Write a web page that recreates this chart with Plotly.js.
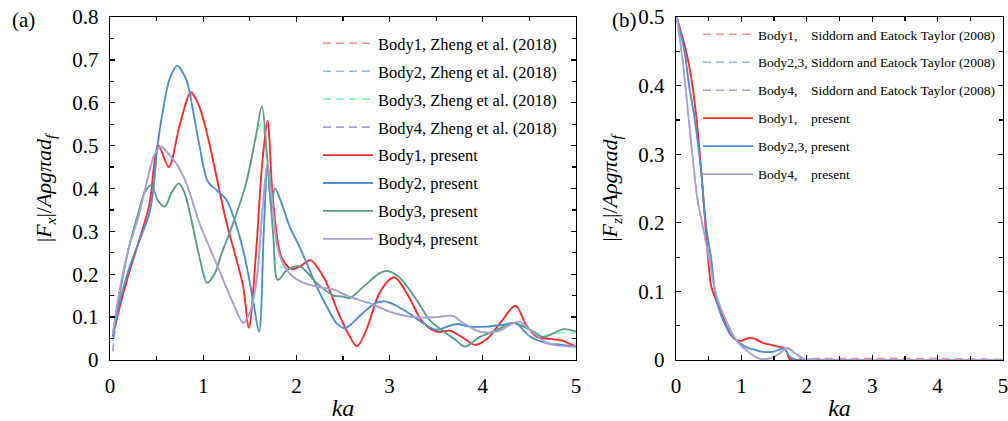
<!DOCTYPE html>
<html>
<head>
<meta charset="utf-8">
<script src="https://cdn.plot.ly/plotly-3.0.1.min.js"></script>
<style>
  html, body { margin: 0; padding: 0; background: #fff; }
  #chart { width: 1008px; height: 421px; }
</style>
</head>
<body>
<div id="chart"></div>
<script>
// ---- (a) horizontal force |Fx| ----
const kaX1 = [0.03,0.1,0.2,0.3,0.42,0.52,0.63,0.75,0.87,0.96,1.05,1.15,1.25,1.35,1.43,1.49,1.57,1.63,1.69,1.75,1.84,1.95,2.05,2.15,2.3,2.45,2.56,2.65,2.75,2.9,3.05,3.2,3.35,3.5,3.65,3.8,3.92,4.05,4.2,4.35,4.47,4.58,4.7,4.85,5.0];
const fxPresent1 = [0.055,0.12,0.2,0.27,0.36,0.5,0.45,0.55,0.625,0.59,0.52,0.42,0.32,0.24,0.17,0.075,0.26,0.45,0.558,0.37,0.24,0.212,0.22,0.233,0.19,0.11,0.06,0.032,0.07,0.16,0.193,0.15,0.09,0.066,0.068,0.05,0.035,0.05,0.09,0.127,0.08,0.054,0.05,0.045,0.03];
const fxZheng1 = [0.05,0.12,0.2,0.27,0.36,0.5,0.45,0.55,0.62,0.59,0.52,0.42,0.32,0.24,0.17,0.075,0.26,0.45,0.55,0.37,0.24,0.212,0.22,0.232,0.19,0.11,0.06,0.033,0.07,0.16,0.192,0.15,0.09,0.066,0.068,0.05,0.036,0.05,0.09,0.125,0.08,0.056,0.05,0.046,0.032];

const kaX2 = [0.03,0.1,0.2,0.3,0.42,0.46,0.51,0.57,0.64,0.72,0.82,0.9,0.96,1.05,1.14,1.25,1.36,1.46,1.54,1.6,1.65,1.69,1.73,1.77,1.85,1.93,2.02,2.11,2.22,2.33,2.43,2.52,2.62,2.71,2.86,2.97,3.15,3.36,3.5,3.62,3.72,3.86,4.04,4.22,4.35,4.51,4.69,4.85,5.0];
const fxPresent2 = [0.055,0.13,0.21,0.27,0.34,0.389,0.5,0.585,0.656,0.686,0.653,0.57,0.5,0.416,0.397,0.373,0.311,0.226,0.132,0.066,0.3,0.458,0.36,0.4,0.36,0.31,0.27,0.226,0.17,0.123,0.086,0.074,0.09,0.109,0.134,0.136,0.117,0.086,0.07,0.078,0.084,0.078,0.078,0.082,0.086,0.054,0.039,0.035,0.031];
const fxZheng2 = [0.045,0.13,0.21,0.27,0.34,0.389,0.5,0.585,0.656,0.684,0.653,0.57,0.5,0.416,0.397,0.373,0.311,0.226,0.132,0.068,0.3,0.455,0.36,0.4,0.36,0.31,0.27,0.226,0.17,0.123,0.086,0.075,0.09,0.109,0.134,0.135,0.117,0.086,0.071,0.078,0.084,0.078,0.078,0.082,0.085,0.055,0.04,0.036,0.032];

const kaX3 = [0.03,0.1,0.2,0.3,0.37,0.44,0.52,0.59,0.66,0.74,0.8,0.87,0.96,1.04,1.12,1.2,1.32,1.46,1.57,1.63,1.68,1.75,1.8,1.9,2.04,2.22,2.4,2.5,2.57,2.72,2.89,2.97,3.1,3.29,3.43,3.61,3.72,3.81,3.97,4.15,4.33,4.51,4.65,4.87,5.0];
const fxPresent3 = [0.06,0.15,0.26,0.34,0.39,0.408,0.37,0.358,0.39,0.412,0.39,0.33,0.24,0.18,0.2,0.25,0.318,0.412,0.528,0.592,0.49,0.295,0.187,0.21,0.218,0.179,0.15,0.148,0.144,0.171,0.202,0.208,0.194,0.14,0.093,0.062,0.045,0.031,0.054,0.07,0.086,0.07,0.054,0.072,0.066];
const fxZheng3 = [0.055,0.15,0.26,0.34,0.39,0.405,0.37,0.36,0.39,0.41,0.39,0.33,0.24,0.19,0.2,0.25,0.318,0.412,0.52,0.555,0.47,0.3,0.22,0.215,0.218,0.179,0.15,0.148,0.145,0.171,0.202,0.207,0.194,0.14,0.093,0.062,0.045,0.033,0.054,0.07,0.086,0.07,0.058,0.064,0.062];

const kaX4 = [0.03,0.1,0.2,0.3,0.4,0.48,0.55,0.63,0.71,0.82,0.96,1.14,1.32,1.43,1.5,1.57,1.64,1.69,1.74,1.8,1.88,1.97,2.1,2.25,2.4,2.57,2.79,3.0,3.25,3.5,3.68,3.79,3.97,4.15,4.33,4.4,4.51,4.69,4.85,5.0];
const fxPresent4 = [0.06,0.16,0.26,0.33,0.42,0.48,0.498,0.48,0.459,0.412,0.319,0.226,0.133,0.086,0.11,0.18,0.36,0.46,0.37,0.26,0.215,0.193,0.178,0.17,0.164,0.148,0.132,0.113,0.1,0.1,0.103,0.086,0.066,0.066,0.086,0.089,0.07,0.039,0.033,0.031];
const fxZheng4 = [0.02,0.15,0.26,0.33,0.42,0.48,0.495,0.48,0.459,0.412,0.319,0.226,0.133,0.088,0.11,0.18,0.36,0.45,0.37,0.26,0.215,0.193,0.178,0.17,0.164,0.148,0.132,0.113,0.1,0.1,0.103,0.086,0.066,0.066,0.086,0.088,0.07,0.04,0.034,0.032];

// ---- (b) vertical force |Fz| ----
const kaZ1 = [0.01,0.15,0.23,0.31,0.38,0.46,0.54,0.61,0.72,0.82,0.92,1.0,1.1,1.2,1.33,1.45,1.59,1.66,1.7,1.74,1.8,2.0,3.0,4.0,5.0];
const fzPresent1 = [0.5,0.452,0.413,0.355,0.282,0.185,0.107,0.088,0.063,0.039,0.029,0.028,0.032,0.031,0.025,0.022,0.019,0.017,0.01,0.001,0,0,0,0,0];
const fzSiddorn1 = [0.5,0.452,0.413,0.355,0.282,0.185,0.107,0.088,0.063,0.039,0.029,0.028,0.031,0.03,0.025,0.022,0.019,0.017,0.01,0.002,0.002,0.002,0.002,0.002,0.001];

const kaZ23 = [0.01,0.13,0.2,0.28,0.38,0.46,0.54,0.61,0.72,0.87,1.07,1.2,1.33,1.48,1.58,1.64,1.69,1.74,1.84,2.0,3.0,4.0,5.0];
const fzPresent23 = [0.5,0.45,0.4,0.355,0.28,0.195,0.146,0.092,0.058,0.034,0.019,0.015,0.012,0.012,0.015,0.017,0.012,0.005,0,0,0,0,0];
const fzSiddorn23 = [0.5,0.45,0.4,0.355,0.28,0.195,0.146,0.092,0.058,0.034,0.019,0.015,0.012,0.012,0.015,0.017,0.012,0.005,0.001,0.001,0,0,0];

const kaZ4 = [0.01,0.1,0.18,0.26,0.33,0.41,0.51,0.61,0.74,0.92,1.13,1.28,1.43,1.59,1.69,1.82,1.94,2.1,3.0,4.0,5.0];
const fzPresent4 = [0.5,0.438,0.365,0.29,0.233,0.195,0.146,0.097,0.063,0.029,0.01,0.0015,0.002,0.01,0.017,0.01,0.002,0,0,0,0];
const fzSiddorn4 = [0.5,0.438,0.365,0.29,0.233,0.195,0.146,0.097,0.063,0.029,0.01,0.002,0.003,0.01,0.018,0.011,0.003,0.001,0,0,0];

const SERIF = 'Liberation Serif, Times New Roman, DejaVu Serif, serif';

function curve(x, y, name, color, dashed, axes, legend) {
  return {
    type: 'scatter', mode: 'lines', x: x, y: y, name: name,
    xaxis: axes[0], yaxis: axes[1], legend: legend, legendgroup: name,
    line: { color: color, width: dashed ? 1.6 : 1.8, dash: dashed ? '8px,5px' : 'solid', shape: 'spline', smoothing: 0.9 },
    hoverinfo: 'skip'
  };
}

const A = ['x', 'y'], B = ['x2', 'y2'];
const sp4 = '\u00a0\u00a0\u00a0\u00a0';
const traces = [
  curve(kaX1, fxZheng1, 'Body1, Zheng et al. (2018)', '#ff8c8c', true, A, 'legend'),
  curve(kaX2, fxZheng2, 'Body2, Zheng et al. (2018)', '#92bbea', true, A, 'legend'),
  curve(kaX3, fxZheng3, 'Body3, Zheng et al. (2018)', '#7dfcb6', true, A, 'legend'),
  curve(kaX4, fxZheng4, 'Body4, Zheng et al. (2018)', '#a3a3dc', true, A, 'legend'),
  curve(kaX1, fxPresent1, 'Body1, present', '#ff2b2b', false, A, 'legend'),
  curve(kaX2, fxPresent2, 'Body2, present', '#4d8fd4', false, A, 'legend'),
  curve(kaX3, fxPresent3, 'Body3, present', '#5e9a8a', false, A, 'legend'),
  curve(kaX4, fxPresent4, 'Body4, present', '#a7a3d4', false, A, 'legend'),

  curve(kaZ1, fzSiddorn1, 'Body1,' + sp4 + 'Siddorn and Eatock Taylor (2008)', '#ff8c8c', true, B, 'legend2'),
  curve(kaZ23, fzSiddorn23, 'Body2,3, Siddorn and Eatock Taylor (2008)', '#92bbea', true, B, 'legend2'),
  curve(kaZ4, fzSiddorn4, 'Body4,' + sp4 + 'Siddorn and Eatock Taylor (2008)', '#a3a3dc', true, B, 'legend2'),
  curve(kaZ1, fzPresent1, 'Body1,' + sp4 + 'present', '#ff2b2b', false, B, 'legend2'),
  curve(kaZ23, fzPresent23, 'Body2,3, present', '#4d8fd4', false, B, 'legend2'),
  curve(kaZ4, fzPresent4, 'Body4,' + sp4 + 'present', '#a7a3d4', false, B, 'legend2')
];

function xAxis(domain, anchor) {
  return {
    domain: domain, anchor: anchor, range: [0, 5], dtick: 1, tick0: 0,
    showgrid: false, zeroline: false, showline: true, linecolor: '#000', linewidth: 1.3,
    mirror: 'ticks', ticks: 'inside', ticklen: 5, tickwidth: 1.3, tickcolor: '#000',
    minor: { dtick: 0.5, ticks: 'inside', ticklen: 4, tickwidth: 1.2, tickcolor: '#000', showgrid: false },
    tickfont: { family: SERIF, size: 21, color: '#000' }, ticklabelstandoff: 6,
    ticklabeloverflow: 'allow',
    title: { text: '<i>ka</i>', font: { family: SERIF, size: 24, color: '#000' }, standoff: 4 }
  };
}
function yAxis(domain, anchor, top, text) {
  return {
    domain: domain, anchor: anchor, range: [0, top], dtick: 0.1, tick0: 0,
    showgrid: false, zeroline: false, showline: true, linecolor: '#000', linewidth: 1.3,
    mirror: 'ticks', ticks: 'inside', ticklen: 5, tickwidth: 1.3, tickcolor: '#000',
    minor: { dtick: 0.05, ticks: 'inside', ticklen: 4, tickwidth: 1.2, tickcolor: '#000', showgrid: false },
    tickfont: { family: SERIF, size: 21, color: '#000' }, ticklabelstandoff: 6,
    ticklabeloverflow: 'allow',
    title: { text: text, font: { family: SERIF, size: 22, color: '#000' }, standoff: 14 }
  };
}

const yDom = [61 / 421, 404 / 421];
const layout = {
  width: 1008, height: 421,
  margin: { l: 0, r: 0, t: 0, b: 0 },
  paper_bgcolor: '#fff', plot_bgcolor: '#fff',
  font: { family: SERIF, color: '#000' },
  xaxis: xAxis([110 / 1008, 576 / 1008], 'y'),
  yaxis: yAxis(yDom, 'x', 0.8, '|<i>F<sub>x</sub></i>|/<i>Aρgπad<sub>f</sub></i>'),
  xaxis2: xAxis([676 / 1008, 1003 / 1008], 'y2'),
  yaxis2: yAxis(yDom, 'x2', 0.5, '|<i>F<sub>z</sub></i>|/<i>Aρgπad<sub>f</sub></i>'),
  legend: {
    x: 318 / 1008, y: 1 - 26 / 421, xanchor: 'left', yanchor: 'top',
    bgcolor: 'rgba(0,0,0,0)', borderwidth: 0, itemwidth: 50,
    traceorder: 'grouped', tracegroupgap: 3.5,
    font: { family: SERIF, size: 16.5, color: '#000' }
  },
  legend2: {
    x: 698 / 1008, y: 1 - 19 / 421, xanchor: 'left', yanchor: 'top',
    bgcolor: 'rgba(0,0,0,0)', borderwidth: 0, itemwidth: 50,
    traceorder: 'grouped', tracegroupgap: 7.4,
    font: { family: SERIF, size: 13.5, color: '#000' }
  },
  showlegend: true,
  annotations: [
    { text: '(a)', xref: 'paper', yref: 'paper', x: 10 / 1008, y: 1 - 6 / 421, xanchor: 'left', yanchor: 'top', showarrow: false, font: { family: SERIF, size: 21, color: '#000' } },
    { text: '(b)', xref: 'paper', yref: 'paper', x: 610 / 1008, y: 1 - 6 / 421, xanchor: 'left', yanchor: 'top', showarrow: false, font: { family: SERIF, size: 21, color: '#000' } }
  ]
};

Plotly.newPlot('chart', traces, layout, { staticPlot: true, displayModeBar: false });
</script>
</body>
</html>
